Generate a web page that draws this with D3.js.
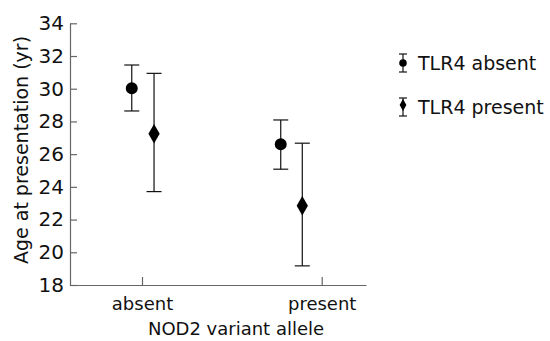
<!DOCTYPE html>
<head>
    <meta charset="utf-8">
    <script src="https://d3js.org/d3.v7.min.js"></script>
    <style>
        body { margin: 0; background: #fff; }
        svg text { font-family: "DejaVu Sans", Verdana, sans-serif; fill: #111; }
        .axis path, .axis line { stroke: #666; stroke-width: 1.2px; }
        .bars line { stroke: #111; stroke-width: 1.2px; }
    </style>
</head>
<body>
<svg id="svg" width="550" height="341"></svg>
<script>
// NOD2 variant allele groups and their axis positions
const groups = ["absent", "present"];
const groupX = [1, 2];
const yTicks = [18, 20, 22, 24, 26, 28, 30, 32, 34];

// TLR4 absent (circles)
const absentX = [0.943, 1.772];
const absentMean = [30.03, 26.6];
const absentLow = [28.64, 25.08];
const absentHigh = [31.45, 28.09];

// TLR4 present (diamonds)
const presentX = [1.067, 1.892];
const presentMean = [27.25, 22.85];
const presentLow = [23.71, 19.17];
const presentHigh = [30.94, 26.67];

const series = [
    { name: "TLR4 absent", shape: d3.symbolCircle, size: 113, x: absentX, mean: absentMean, low: absentLow, high: absentHigh },
    { name: "TLR4 present", shape: d3.symbolDiamond, size: 110, x: presentX, mean: presentMean, low: presentLow, high: presentHigh }
];

const svg = d3.select("#svg");
const x = d3.scaleLinear().domain([0.5993, 2.2465]).range([70, 366]);
const y = d3.scaleLinear().domain([18, 34]).range([285, 23.3]);

const yAxis = svg.append("g").attr("class", "axis").attr("transform", "translate(70,0)")
    .call(d3.axisLeft(y).tickValues(yTicks).tickSizeInner(-7).tickSizeOuter(0).tickPadding(6));
const xAxis = svg.append("g").attr("class", "axis").attr("transform", "translate(0,285)")
    .call(d3.axisBottom(x).tickValues(groupX).tickFormat((d, i) => groups[i])
        .tickSizeInner(-8).tickSizeOuter(0).tickPadding(12));
svg.selectAll(".axis text").attr("font-size", 18).attr("fill", "#111")
    .style("font-family", '"DejaVu Sans", Verdana, sans-serif');
yAxis.selectAll("text").attr("font-size", 20);

svg.append("text").attr("transform", "translate(28,150) rotate(-90)")
    .attr("text-anchor", "middle").attr("font-size", 19).text("Age at presentation (yr)");
svg.append("text").attr("x", 236).attr("y", 335)
    .attr("text-anchor", "middle").attr("font-size", 18).text("NOD2 variant allele");

const cap = 7.5;
series.forEach(s => {
    const g = svg.append("g").attr("class", "bars");
    const idx = d3.range(s.mean.length);
    g.selectAll("line.v").data(idx).enter().append("line")
        .attr("x1", i => x(s.x[i])).attr("x2", i => x(s.x[i]))
        .attr("y1", i => y(s.high[i])).attr("y2", i => y(s.low[i]));
    g.selectAll("line.t").data(idx).enter().append("line")
        .attr("x1", i => x(s.x[i]) - cap).attr("x2", i => x(s.x[i]) + cap)
        .attr("y1", i => y(s.high[i])).attr("y2", i => y(s.high[i]));
    g.selectAll("line.b").data(idx).enter().append("line")
        .attr("x1", i => x(s.x[i]) - cap).attr("x2", i => x(s.x[i]) + cap)
        .attr("y1", i => y(s.low[i])).attr("y2", i => y(s.low[i]));
    g.selectAll("path").data(idx).enter().append("path")
        .attr("d", d3.symbol().type(s.shape).size(s.size))
        .attr("transform", i => "translate(" + x(s.x[i]) + "," + y(s.mean[i]) + ")")
        .attr("fill", "#000");
});

// legend
const legend = svg.append("g").attr("transform", "translate(403,0)");
const legY = [63, 107];
series.forEach((s, i) => {
    const lg = legend.append("g").attr("class", "bars").attr("transform", "translate(0," + legY[i] + ")");
    lg.append("line").attr("x1", 0).attr("x2", 0).attr("y1", -9).attr("y2", 9);
    lg.append("line").attr("x1", -4).attr("x2", 4).attr("y1", -9).attr("y2", -9);
    lg.append("line").attr("x1", -4).attr("x2", 4).attr("y1", 9).attr("y2", 9);
    lg.append("path").attr("d", d3.symbol().type(s.shape).size(i === 0 ? 45 : 40))
        .attr("transform", "translate(0," + (i === 0 ? 0 : -2) + ")").attr("fill", "#000");
    lg.append("text").attr("x", 15).attr("y", 7).attr("font-size", 19).text(s.name);
});
</script>
</body>
